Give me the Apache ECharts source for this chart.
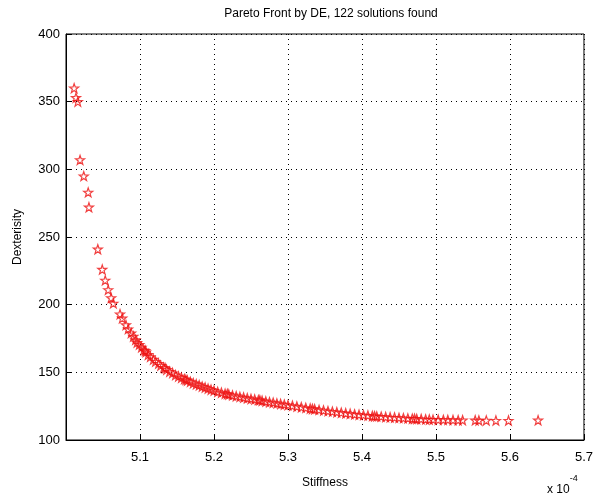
<!DOCTYPE html>
<html>
<head>
<meta charset="utf-8">
<script src="https://cdn.jsdelivr.net/npm/echarts@6/dist/echarts.min.js"></script>
<style>
  html, body { margin: 0; padding: 0; background: #fff; }
  #chart { width: 596px; height: 496px; }
</style>
</head>
<body>
<div id="chart"></div>
<script>
// stiffness in units of 1e-4, dexterity
const stiffness = [
  5.011, 5.0135, 5.016, 5.019, 5.024, 5.030, 5.031, 5.043, 5.049, 5.053,
  5.057, 5.061, 5.064, 5.073, 5.076, 5.081, 5.084,
  5.088, 5.091, 5.094, 5.096, 5.099, 5.102, 5.105, 5.108, 5.111, 5.114,
  5.118, 5.121, 5.125, 5.128, 5.132, 5.136, 5.140, 5.144, 5.148, 5.152,
  5.156, 5.160, 5.164, 5.168, 5.172, 5.176, 5.180, 5.184, 5.188, 5.192,
  5.196, 5.200, 5.205, 5.210, 5.215, 5.220, 5.225, 5.230, 5.235, 5.240,
  5.245, 5.250, 5.255, 5.260, 5.265, 5.270, 5.275, 5.280, 5.285, 5.290,
  5.295, 5.300, 5.306, 5.312, 5.318, 5.324, 5.330, 5.336, 5.342, 5.348,
  5.354, 5.360, 5.366, 5.372, 5.378, 5.384, 5.390, 5.396, 5.402, 5.408,
  5.414, 5.420, 5.426, 5.432, 5.438, 5.444, 5.450, 5.456, 5.462, 5.468,
  5.474, 5.480, 5.486, 5.491, 5.496, 5.503, 5.510, 5.516, 5.523, 5.530,
  5.536, 5.553, 5.558, 5.568, 5.581, 5.598, 5.638,
  5.107, 5.134, 5.162, 5.218, 5.262, 5.333, 5.417, 5.471
]
const dexterity = [
  360, 353, 350, 307, 295, 283, 272, 241, 226, 218,
  211, 205, 201, 193, 190, 185, 182,
  179, 176.5, 174, 172, 170.5, 168.5, 166.5, 165, 163, 161.5,
  159.5, 158, 156.5, 155, 153.5, 152, 150.5, 149.5, 148, 147,
  146, 145, 144, 143, 142, 141.2, 140.5, 139.5, 138.8, 138,
  137.2, 136.5, 135.6, 135, 134.2, 133.6, 133, 132.4, 131.9, 131.4,
  130.9, 130.4, 130, 129.5, 129, 128.5, 128, 127.6, 127.1, 126.7,
  126.2, 125.8, 125.3, 124.8, 124.3, 123.8, 123.3, 122.8, 122.3, 121.9,
  121.4, 121, 120.6, 120.2, 119.8, 119.4, 119, 118.7, 118.4, 118.1,
  117.8, 117.5, 117.3, 117, 116.8, 116.6, 116.4, 116.2, 116, 115.8,
  115.6, 115.5, 115.3, 115.2, 115.1, 115, 114.9, 114.9, 114.8, 114.7,
  114.7, 114.6, 114.5, 114.5, 114.4, 114.4, 114.6,
  166, 153, 144.5, 134, 129.5, 123, 117.6, 115.7
]
const xTicks = [5.1, 5.2, 5.3, 5.4, 5.5, 5.6, 5.7]
const yTicks = [100, 150, 200, 250, 300, 350, 400]

const points = stiffness.map((x, i) => [x, dexterity[i]])
const star = 'path://M0,-10 L2.35,-3.24 L9.51,-3.09 L3.8,1.24 L5.88,8.09 L0,4 L-5.88,8.09 L-3.8,1.24 L-9.51,-3.09 L-2.35,-3.24 Z'
const font = 'Arial, "Liberation Sans", sans-serif'

const chart = echarts.init(document.getElementById('chart'))
chart.setOption({
  backgroundColor: '#fff',
  animation: false,
  textStyle: { fontFamily: font },
  title: {
    text: 'Pareto Front by DE, 122 solutions found',
    left: 326,
    top: 3,
    textAlign: 'center',
    textStyle: { fontSize: 12, fontWeight: 'normal', color: '#000', fontFamily: font }
  },
  grid: {
    left: 66,
    right: 9,
    top: 34,
    bottom: 56,
    show: true,
    borderColor: '#000',
    borderWidth: 1
  },
  xAxis: {
    type: 'value',
    min: 5.0,
    max: 5.7,
    interval: 0.1,
    name: 'Stiffness',
    nameLocation: 'middle',
    nameGap: 37,
    nameTextStyle: { fontSize: 12, color: '#000' },
    axisLine: { show: true, lineStyle: { color: '#000' } },
    axisTick: { show: true, inside: true, length: 5, lineStyle: { color: '#000' } },
    axisLabel: {
      fontSize: 13,
      color: '#000',
      margin: 11,
      formatter: v => xTicks.some(t => Math.abs(t - v) < 1e-6) ? v.toFixed(1) : ''
    },
    splitLine: { show: true, lineStyle: { type: [1, 4], color: '#000', width: 1 } }
  },
  yAxis: {
    type: 'value',
    min: 100,
    max: 400,
    interval: 50,
    name: 'Dexterisity',
    nameLocation: 'middle',
    nameGap: 42,
    nameTextStyle: { fontSize: 12, color: '#000' },
    axisLine: { show: true, lineStyle: { color: '#000' } },
    axisTick: { show: true, inside: true, length: 5, lineStyle: { color: '#000' } },
    axisLabel: {
      fontSize: 13,
      color: '#000',
      margin: 6,
      formatter: v => yTicks.includes(v) ? String(v) : ''
    },
    splitLine: { show: true, lineStyle: { type: [1, 4], color: '#000', width: 1 } }
  },
  graphic: [
    {
      type: 'text',
      left: 547,
      top: 474,
      style: {
        text: '{b|x 10}{s|-4}',
        rich: {
          b: { fontSize: 12, fontFamily: font, fill: '#000', padding: [10, 0, 0, 0] },
          s: { fontSize: 9, fontFamily: font, fill: '#000', verticalAlign: 'top' }
        }
      }
    }
  ],
  series: [
    {
      type: 'scatter',
      data: points,
      symbol: star,
      symbolSize: 9,
      itemStyle: {
        color: 'rgba(0,0,0,0)',
        borderColor: '#ee1111',
        borderWidth: 1.2
      }
    }
  ]
})
</script>
</body>
</html>
